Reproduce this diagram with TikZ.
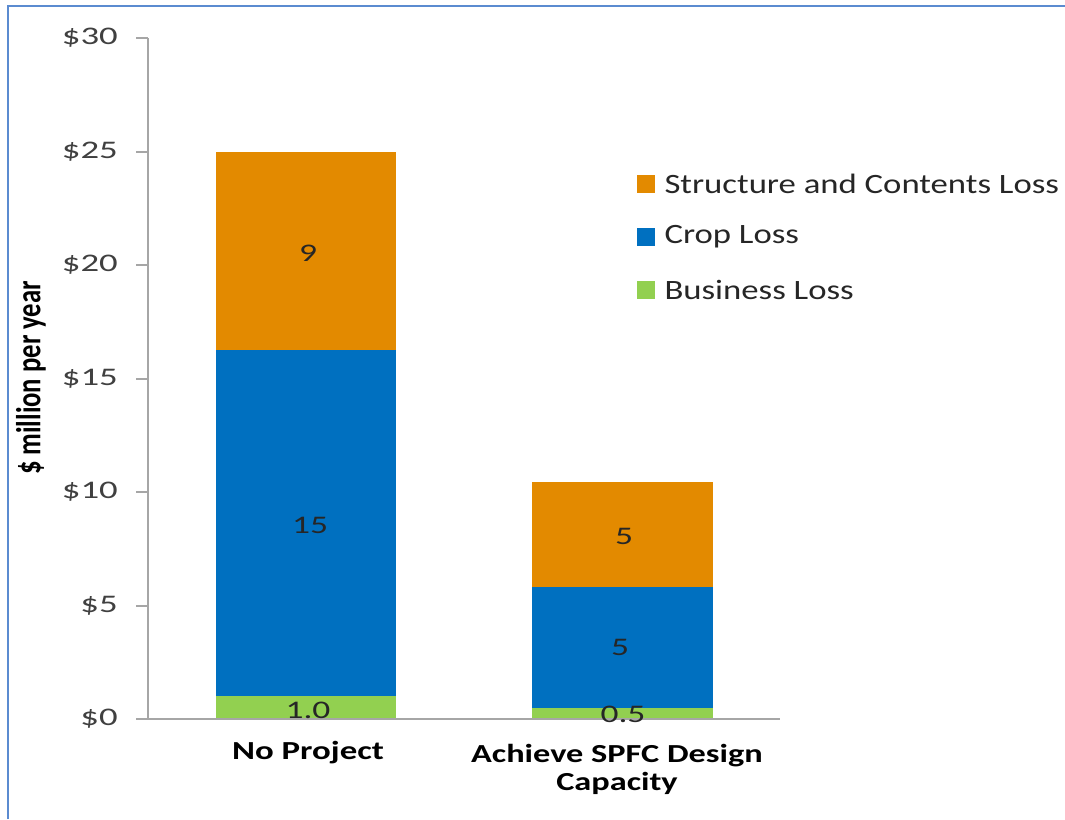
\documentclass[tikz,border=0pt]{standalone}
\usepackage{fontspec}
\usepackage{graphicx}
\setmainfont{Carlito}
\usetikzlibrary{positioning}
\definecolor{structcol}{HTML}{E38A00}
\definecolor{cropcol}{HTML}{0070C0}
\definecolor{buscol}{HTML}{92D050}
\definecolor{framecol}{HTML}{5B8BD0}
\definecolor{axiscol}{HTML}{A6A6A6}
\definecolor{ticktext}{HTML}{404040}
% the chart text is stretched sideways
\newcommand*{\hstretch}[2]{\scalebox{#1}[1]{#2}}
\tikzset{
  ticklabel/.style={anchor=east, inner sep=0pt, text=ticktext, font=\fontsize{19}{22}\selectfont},
  barlabel/.style={inner sep=0pt, text=black!85, font=\fontsize{19}{22}\selectfont},
  catlabel/.style={inner sep=0pt, font=\fontsize{19.5}{23}\selectfont\bfseries},
  legbox/.style={minimum size=13.5pt, inner sep=0pt},
  legtext/.style={anchor=west, inner sep=0pt, text=black!85, font=\fontsize{21}{24}\selectfont},
}
\begin{document}
\begin{tikzpicture}[x=0.75pt,y=-0.75pt]

    \newcommand*{\xAxis}{148}%
    \newcommand*{\yZero}{719}%
    \newcommand*{\yTop}{38}%
    \def\unit {22.7};

    \useasboundingbox (0,0) rectangle (1065,819);

    % frame
    \draw [line width=2.2pt, framecol] (8,819) -- (8,6) -- (1065,6);

    % bars: left / right / business / crop / structure (stacked tops)
    \foreach \name/\xl/\xr/\bus/\crop/\struct in {np/216/396/1.0/16.25/25.0, spfc/532/713/0.5/5.8/10.42} {
      \fill [buscol] (\xl,\yZero) rectangle (\xr,\yZero-\bus*\unit);
      \fill [cropcol] (\xl,\yZero-\bus*\unit) rectangle (\xr,\yZero-\crop*\unit);
      \fill [structcol] (\xl,\yZero-\crop*\unit) rectangle (\xr,\yZero-\struct*\unit);
    }

    % axes
    \draw [line width=1.5pt, axiscol] (\xAxis,\yTop) -- (\xAxis,\yZero);
    \draw [line width=1.5pt, axiscol] (136,\yZero) -- (780,\yZero);
    \foreach \v in {0,5,...,30} {
      \pgfmathsetmacro\ycoord{\yZero-\v*\unit};
      \draw [line width=1.5pt, axiscol] (136,\ycoord) -- (\xAxis,\ycoord);
      \node [ticklabel] (tick\v) at (118,\ycoord) {\hstretch{1.45}{\$\v}};
    }
    \node [rotate=90, inner sep=0pt, font=\fontsize{20}{24}\selectfont\bfseries] (ylabel) at (31,378) {\scalebox{1}[1.3]{\$ million per year}};

    % values in the bars
    \node [barlabel] (np-struct) at (308,253) {\hstretch{1.4}{9}};
    \node [barlabel] (np-crop) at (310,525) {\hstretch{1.4}{15}};
    \node [barlabel] (np-bus) at (308,710) {\hstretch{1.4}{1.0}};
    \node [barlabel] (spfc-struct) at (624,536) {\hstretch{1.4}{5}};
    \node [barlabel] (spfc-crop) at (620,647) {\hstretch{1.4}{5}};
    \node [barlabel] (spfc-bus) at (623,714) {\hstretch{1.4}{0.5}};

    % categories
    \node [catlabel] (cat-np) at (308,753) {\hstretch{1.34}{No Project}};
    \node [catlabel] (cat-spfc) at (617,770) {\hstretch{1.32}{\begin{tabular}{@{}c@{}}Achieve SPFC Design\\[-2pt]Capacity\end{tabular}}};

    % legend
    \node [legbox, fill=structcol] (leg-struct) at (646,184) {};
    \node [legbox, fill=cropcol] (leg-crop) at (646,237) {};
    \node [legbox, fill=buscol] (leg-bus) at (646,290) {};
    \node [legtext, right=6.75pt of leg-struct] (legt-struct) {\hstretch{1.24}{Structure and Contents Loss}};
    \node [legtext, right=6.75pt of leg-crop] (legt-crop) {\hstretch{1.24}{Crop Loss}};
    \node [legtext, right=6.75pt of leg-bus] (legt-bus) {\hstretch{1.24}{Business Loss}};

\end{tikzpicture}
\end{document}
